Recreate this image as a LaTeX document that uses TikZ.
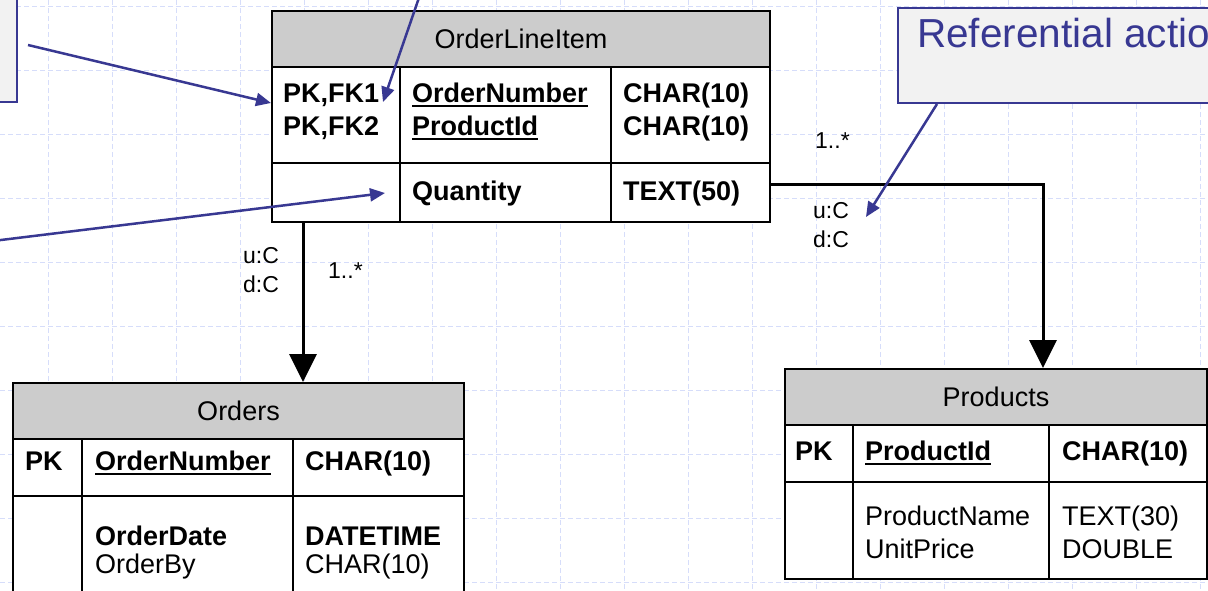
\documentclass[tikz,border=0pt]{standalone}
\usepackage{fontspec}
\setmainfont{Liberation Sans}
\usepackage{tikz}
\usetikzlibrary{arrows.meta,positioning}
\definecolor{noteblue}{RGB}{56,56,146}
\definecolor{notefill}{RGB}{242,242,242}
\definecolor{headgray}{RGB}{204,204,204}
\definecolor{gridblue}{RGB}{214,221,250}
\newcommand{\keyname}[1]{\vtop{\hbox{#1}\kern2.5pt\hrule height 2pt}}
\tikzstyle{gridline}=[draw=gridblue, line width=1pt, dash pattern=on 5pt off 3pt]
\tikzstyle{tablebox}=[draw, line width=2pt, fill=white, anchor=north west, inner sep=0pt]
\tikzstyle{table head}=[tablebox, fill=headgray, font=\fontsize{27}{32}\selectfont]
\tikzstyle{tableline}=[draw, line width=2pt]
\tikzstyle{field}=[anchor=base west, inner sep=0pt, font=\fontsize{27}{32}\selectfont]
\tikzstyle{key field}=[field, font=\fontsize{27}{32}\selectfont\bfseries]
\tikzstyle{card}=[anchor=base west, inner sep=0pt, font=\fontsize{23}{28}\selectfont]
\tikzstyle{relation}=[draw, line width=3pt, -{Triangle[length=28pt,width=27pt]}]
\tikzstyle{note}=[draw=noteblue, line width=2pt, fill=notefill, anchor=north west, inner sep=0pt]
\tikzstyle{note arrow}=[draw=noteblue, line width=2.5pt, -{Triangle[length=15pt,width=13pt]}]

\begin{document}
\begin{tikzpicture}[x=1pt, y=-1pt]
		\useasboundingbox (0,0) rectangle (1208,590);
		\clip (0,0) rectangle (1208,590);
		\fill[white] (0,0) rectangle (1208,590);
		
		% First we draw the background grid
		\foreach \x in {48,112,...,1200}
		\draw[gridline] (\x,0) -- (\x,590);
		\foreach \y in {6,70,...,582}
		\draw[gridline] (0,\y) -- (1208,\y);
		
		% Callout boxes
		\node[note, minimum width=320pt, minimum height=160pt] (leftnote) at (-304,-59) {};
		\node[note, minimum width=500pt, minimum height=95pt] (refnote) at (897,7) {};
		\node[anchor=base west, inner sep=0pt, text=noteblue, font=\fontsize{40.5}{48}\selectfont] (reftext) at (917,47) {Referential action};
		
		% Tables with their headers
		\node[tablebox, minimum width=498pt, minimum height=211pt] (oli) at (271,10) {};
		\node[table head, minimum width=498pt, minimum height=56pt] (olihead) at (271,10) {OrderLineItem};
		\node[tablebox, minimum width=451pt, minimum height=260pt] (orders) at (12,382) {};
		\node[table head, minimum width=451pt, minimum height=56pt] (ordershead) at (12,382) {Orders};
		\node[tablebox, minimum width=422pt, minimum height=210pt] (products) at (784,368) {};
		\node[table head, minimum width=422pt, minimum height=56pt] (productshead) at (784,368) {Products};
		
		% Rows and columns
		\foreach \xa/\xb/\y in {271/769/163, 12/463/496, 784/1206/482}
		\draw[tableline] (\xa,\y) -- (\xb,\y);
		\foreach \x/\ya/\yb in {400/66/221, 611/66/221, 82/438/650, 293/438/650, 853/424/578, 1049/424/578}
		\draw[tableline] (\x,\ya) -- (\x,\yb);
		
		% Then the fields
		\foreach \pos/\label/\name in {
			{(283,102)/olikey1/PK,FK1}, {(283,135)/olikey2/PK,FK2},
			{(412,102)/olinum/\keyname{OrderNumber}}, {(412,135)/oliprod/\keyname{ProductId}},
			{(623,102)/olitype1/CHAR(10)}, {(623,135)/olitype2/CHAR(10)},
			{(412,200)/oliqty/Quantity}, {(623,200)/olitype3/TEXT(50)},
			{(25,470)/ordkey/PK}, {(95,470)/ordnum/\keyname{OrderNumber}}, {(305,470)/ordtype1/CHAR(10)},
			{(95,545)/orddate/OrderDate}, {(305,545)/ordtype2/DATETIME},
			{(795,460)/prdkey/PK}, {(865,460)/prdid/\keyname{ProductId}}, {(1062,460)/prdtype1/CHAR(10)}}
		\node[key field] (\label) at \pos {\name};
		
		\foreach \pos/\label/\name in {
			{(95,573)/ordby/OrderBy}, {(305,573)/ordtype3/CHAR(10)},
			{(865,525)/prdname/ProductName}, {(865,558)/prdprice/UnitPrice},
			{(1062,525)/prdtype2/TEXT(30)}, {(1062,558)/prdtype3/DOUBLE}}
		\node[field] (\label) at \pos {\name};
		
		% Cardinalities and actions
		\foreach \pos/\label/\name in {
			{(243,263)/ordupd/u:C}, {(243,292)/orddel/d:C}, {(328,278)/ordcard/1..*},
			{(815,148)/prdcard/1..*}, {(813,218)/prdupd/u:C}, {(813,247)/prddel/d:C}}
		\node[card] (\label) at \pos {\name};
		
		% Connect tables
		\draw[relation] ([xshift=32pt]oli.south west) coordinate (olifoot) -- (olifoot |- orders.north);
		\draw[relation] ([yshift=-68pt]oli.east) -| ([xshift=47pt]products.north);
		
		% Callout pointers
		\coordinate (topfree) at (432,-40);
		\coordinate (leftfree) at (-40,245);
		\draw[note arrow] ([xshift=10pt,yshift=-23pt]leftnote.east) -- ([yshift=13.5pt]oli.west);
		\draw[note arrow] (topfree) -- ([xshift=112pt,yshift=-92pt]oli.north west);
		\draw[note arrow] (leftfree) -- ([xshift=114pt,yshift=-183pt]oli.north west);
		\draw[note arrow] ([xshift=40pt]refnote.south west) -- ([xshift=-31pt,yshift=-113pt]refnote.south west);
\end{tikzpicture}
\end{document}
